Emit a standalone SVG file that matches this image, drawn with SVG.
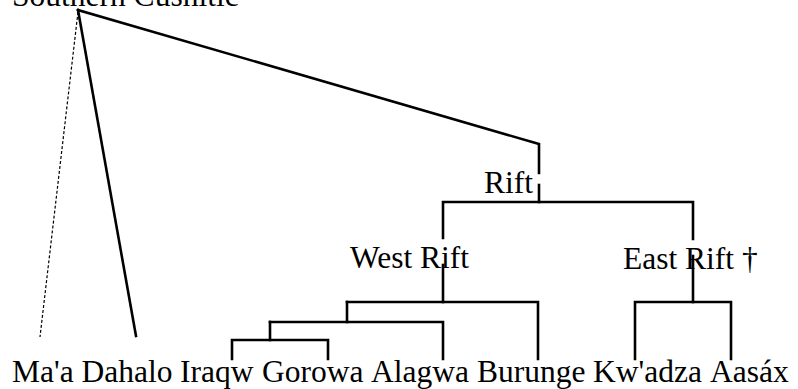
<svg xmlns="http://www.w3.org/2000/svg" width="798" height="389" viewBox="0 0 798 389">
<style>
text{font-family:"Liberation Serif","Times New Roman",serif;font-size:31.5px;fill:#000}
.c{fill:none;stroke:#000;stroke-width:2.6;stroke-linecap:square}
.d{fill:none;stroke:#000;stroke-width:1.2;stroke-dasharray:3 2}
</style>
<rect width="798" height="389" fill="#fff"/>
<g id="connectors">
<path class="d" d="M78,12 L40,337"/>
<path class="c" d="M78,10 L136,336"/>
<path class="c" d="M78,10 L539,144 L539,173"/>
<path class="c" d="M539,185 L539,202"/>
<path class="c" d="M443,238 L443,202 L693,202 L693,239"/>
<path class="c" d="M443,265 L443,302"/>
<path class="c" d="M347,302 L538,302 L538,359"/>
<path class="c" d="M347,302 L347,322"/>
<path class="c" d="M270,322 L443,322 L443,359"/>
<path class="c" d="M270,322 L270,340"/>
<path class="c" d="M232,359 L232,340 L328,340 L328,359"/>
<path class="c" d="M693,256 L693,302"/>
<path class="c" d="M635,359 L635,302 L731,302 L731,359"/>
</g>
<g id="southern-cushitic"><text x="12" y="6">Southern Cushitic</text></g>
<g id="rift"><text x="484" y="193">Rift</text></g>
<g id="west-rift"><text x="350" y="268">West Rift</text></g>
<g id="east-rift"><text x="623" y="269">East Rift †</text></g>
<g id="maa"><text x="12" y="382">Ma'a</text></g>
<g id="dahalo"><text x="81.5" y="382">Dahalo</text></g>
<g id="iraqw"><text x="180" y="382">Iraqw</text></g>
<g id="gorowa"><text x="262" y="382">Gorowa</text></g>
<g id="alagwa"><text x="371" y="382">Alagwa</text></g>
<g id="burunge"><text x="477" y="382">Burunge</text></g>
<g id="kwadza"><text x="593" y="382">Kw'adza</text></g>
<g id="aasax"><text x="710" y="382">Aasáx</text></g>
</svg>
